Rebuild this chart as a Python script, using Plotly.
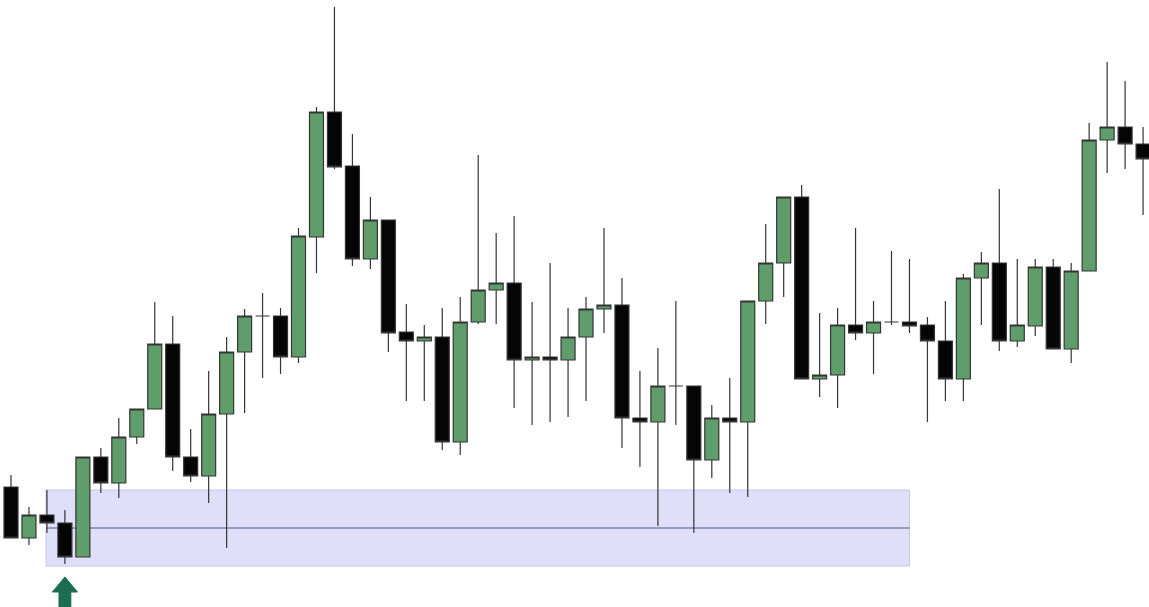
import plotly.graph_objects as go

# Candle values (price units)
opens = [113, 62, 85, 77, 43, 143, 117, 163, 191, 256, 143, 124, 186, 248, 284, 284,
         243, 363, 488, 434, 341, 380, 268, 259, 263, 158, 278, 310, 317, 240, 243, 240,
         263, 291, 295, 182, 178, 214, 214, 140, 182, 178, 299, 337, 403, 221, 225, 275,
         267, 278, 278, 275, 259, 221, 322, 337, 259, 274, 333, 251, 329, 460, 473, 456]
highs = [125, 93, 110, 90, 143, 152, 182, 191, 298, 284, 171, 229, 263, 291, 307, 292,
         372, 493, 593, 466, 403, 380, 296, 275, 292, 303, 445, 367, 384, 298, 337, 292,
         303, 372, 322, 229, 252, 299, 214, 195, 222, 299, 376, 403, 415, 287, 292, 372,
         299, 349, 341, 283, 299, 326, 348, 411, 341, 341, 341, 337, 477, 538, 519, 473]
lows = [62, 55, 67, 36, 43, 107, 102, 156, 191, 129, 118, 97, 52, 187, 222, 226,
        237, 327, 431, 334, 331, 248, 199, 199, 150, 145, 276, 276, 192, 175, 178, 183,
        199, 267, 152, 133, 74, 175, 67, 122, 107, 103, 276, 303, 221, 203, 192, 260,
        226, 275, 267, 178, 199, 199, 275, 249, 253, 264, 251, 237, 329, 427, 431, 385]
closes = [62, 85, 77, 43, 143, 117, 163, 191, 256, 143, 124, 186, 248, 284, 284, 243,
          364, 488, 433, 341, 380, 267, 259, 263, 158, 278, 310, 317, 240, 243, 240, 263,
          291, 295, 182, 178, 214, 214, 140, 182, 178, 299, 337, 403, 221, 225, 275, 267,
          278, 278, 274, 259, 221, 322, 337, 259, 275, 333, 251, 329, 460, 473, 456, 441]
bars = list(range(len(opens)))

# Support zone (price units / bar indices)
zone_start, zone_end = 1.95, 50.0
zone_low, zone_high = 34, 110
zone_level = 72
arrow_bar = 3

fig = go.Figure(go.Candlestick(
    x=bars, open=opens, high=highs, low=lows, close=closes,
    increasing=dict(fillcolor="#5f9e6a", line=dict(color="#353535", width=1.2)),
    decreasing=dict(fillcolor="#050505", line=dict(color="#353535", width=1.2)),
    whiskerwidth=0, hoverinfo="none",
))

fig.add_shape(type="rect", x0=zone_start, x1=zone_end, y0=zone_low, y1=zone_high,
              xref="x", yref="y", layer="below",
              fillcolor="#dfdff9", line=dict(color="#c6c6ec", width=1))
fig.add_shape(type="line", x0=zone_start, x1=zone_end, y0=zone_level, y1=zone_level,
              xref="x", yref="y", layer="below",
              line=dict(color="#7f86a8", width=1.5))

# Up arrow under the signal bar
low_a = lows[arrow_bar]
tip = low_a - 13
base = tip - 15
bottom = base - 16
hw, sw = 0.7, 0.33
a = arrow_bar
path = (f"M {a},{tip} L {a+hw},{base} L {a+sw},{base} L {a+sw},{bottom} "
        f"L {a-sw},{bottom} L {a-sw},{base} L {a-hw},{base} Z")
fig.add_shape(type="path", path=path, xref="x", yref="y",
              fillcolor="#1c6e52", line=dict(color="#1c6e52", width=1))

fig.update_layout(
    width=1149, height=607,
    margin=dict(l=0, r=0, t=0, b=0),
    paper_bgcolor="white", plot_bgcolor="white",
    showlegend=False, boxgap=0.05, boxgroupgap=0.18,
    xaxis=dict(range=[-0.612, 63.33], visible=False, rangeslider=dict(visible=False)),
    yaxis=dict(range=[-7, 600], visible=False),
)

fig.write_html("out.html", config={"displayModeBar": False},
               post_script="document.body.style.margin='0';document.body.style.overflow='hidden';")
